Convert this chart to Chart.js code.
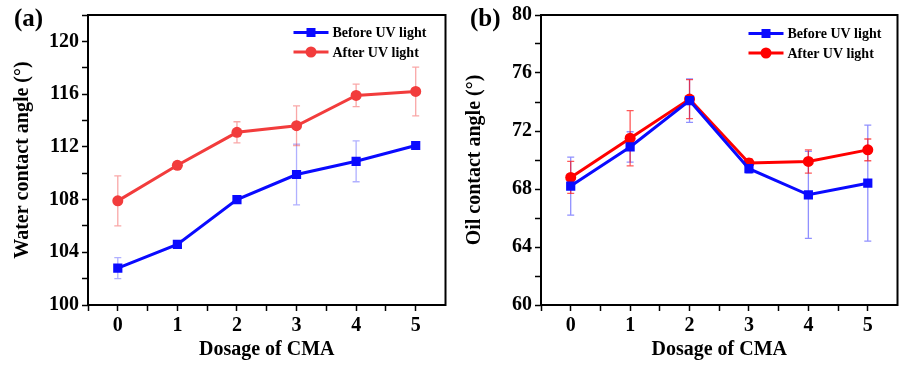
<!DOCTYPE html>
<html>
<head>
<meta charset="utf-8">
<script src="https://cdn.jsdelivr.net/npm/chart.js@4.4.1/dist/chart.umd.min.js"></script>
<style>
  html, body { margin: 0; padding: 0; background: #fff; }
  #wrap { position: relative; width: 904px; height: 365px; }
  .panel { position: absolute; top: 0; width: 452px; height: 365px; }
  #pa { left: 0; }
  #pb { left: 452px; }
</style>
</head>
<body>
<div id="wrap">
  <div class="panel" id="pa"><canvas id="chartA"></canvas></div>
  <div class="panel" id="pb"><canvas id="chartB"></canvas></div>
</div>
<script>
// dosage of CMA
const dosage = [0, 1, 2, 3, 4, 5];

// (a) water contact angle
const waterBefore = [102.8, 104.6, 108.0, 109.9, 110.9, 112.1];
const waterBeforeErr = [0.8, 0.2, 0.15, 2.3, 1.55, 0.3];
const waterAfter = [107.9, 110.6, 113.1, 113.6, 115.9, 116.2];
const waterAfterErr = [1.9, 0.25, 0.8, 1.5, 0.85, 1.85];

// (b) oil contact angle
const oilBefore = [68.2, 70.9, 74.1, 69.4, 67.6, 68.4];
const oilBeforeErr = [2.0, 1.05, 1.5, 0.3, 3.0, 4.0];
const oilAfter = [68.8, 71.5, 74.2, 69.8, 69.9, 70.7];
const oilAfterErr = [1.1, 1.9, 1.35, 0.3, 0.8, 0.75];

const xTicks = [0, 1, 2, 3, 4, 5];
const waterTicks = [100, 104, 108, 112, 116, 120];
const oilTicks = [60, 64, 68, 72, 76, 80];

const serif = "'Liberation Serif', 'Times New Roman', serif";

// error bars, frame, panel letter and legend
const extras = {
    id: 'extras',
    beforeDatasetsDraw(chart) {
        const ctx = chart.ctx;
        const xs = chart.scales.x, ys = chart.scales.y;
        chart.data.datasets.forEach(ds => {
            ctx.save();
            ctx.strokeStyle = ds.errColor;
            ctx.lineWidth = 1.3;
            ds.data.forEach((p, i) => {
                const e = ds.errors[i];
                const x = xs.getPixelForValue(p.x);
                const y1 = ys.getPixelForValue(p.y + e);
                const y2 = ys.getPixelForValue(p.y - e);
                ctx.beginPath();
                ctx.moveTo(x, y1); ctx.lineTo(x, y2);
                ctx.moveTo(x - 3.5, y1); ctx.lineTo(x + 3.5, y1);
                ctx.moveTo(x - 3.5, y2); ctx.lineTo(x + 3.5, y2);
                ctx.stroke();
            });
            ctx.restore();
        });
    },
    afterDraw(chart) {
        const ctx = chart.ctx;
        const a = chart.chartArea;
        const opts = chart.options.plugins.extras;
        ctx.save();
        ctx.strokeStyle = '#000';
        ctx.lineWidth = 2;
        ctx.strokeRect(a.left, a.top, a.right - a.left, a.bottom - a.top);

        ctx.fillStyle = '#000';
        ctx.font = 'bold 25px ' + serif;
        ctx.textBaseline = 'middle';
        ctx.textAlign = 'left';
        ctx.fillText(opts.letter, opts.letterX, 20);

        // legend
        ctx.font = 'bold 14px ' + serif;
        chart.data.datasets.forEach((ds, i) => {
            const y = opts.legendY + i * 19.5;
            const x0 = a.right - opts.legendDx;
            ctx.strokeStyle = ds.borderColor;
            ctx.lineWidth = 3;
            ctx.beginPath();
            ctx.moveTo(x0, y); ctx.lineTo(x0 + 35, y);
            ctx.stroke();
            ctx.fillStyle = ds.borderColor;
            if (ds.pointStyle === 'rect') {
                ctx.fillRect(x0 + 13, y - 4.5, 9, 9);
            } else {
                ctx.beginPath();
                ctx.arc(x0 + 17.5, y, 5.5, 0, Math.PI * 2);
                ctx.fill();
            }
            ctx.fillStyle = '#000';
            ctx.fillText(ds.label, x0 + 39, y + 1);
        });
        ctx.restore();
    }
};

function series(values) {
    return values.map((v, i) => ({ x: dosage[i], y: v }));
}

function makeChart(id, cfg) {
    const ctx = document.getElementById(id).getContext('2d');
    return new Chart(ctx, {
        type: 'line',
        data: {
            datasets: [{
                label: 'Before UV light',
                data: series(cfg.before),
                errors: cfg.beforeErr,
                borderColor: cfg.blue,
                backgroundColor: cfg.blue,
                errColor: cfg.blueErr,
                borderWidth: 3,
                pointStyle: 'rect',
                pointRadius: 6.5,
                pointBorderWidth: 0
            }, {
                label: 'After UV light',
                data: series(cfg.after),
                errors: cfg.afterErr,
                borderColor: cfg.red,
                backgroundColor: cfg.red,
                errColor: cfg.redErr,
                borderWidth: 3,
                pointStyle: 'circle',
                pointRadius: 5.5,
                pointBorderWidth: 0
            }]
        },
        options: {
            responsive: true,
            maintainAspectRatio: false,
            animation: false,
            layout: { padding: { top: 14, right: cfg.padRight, left: 0, bottom: 0 } },
            plugins: {
                legend: { display: false },
                tooltip: { enabled: false },
                extras: {
                    letter: cfg.letter,
                    letterX: cfg.letterX,
                    legendDx: cfg.legendDx,
                    legendY: cfg.legendY
                }
            },
            scales: {
                x: {
                    type: 'linear',
                    min: -0.5,
                    max: 5.5,
                    afterBuildTicks: (s) => {
                        s.ticks = [];
                        for (let v = -0.5; v <= 5.5; v += 0.5) s.ticks.push({ value: v });
                    },
                    afterFit: (s) => { s.height = 60; },
                    border: { display: false },
                    grid: {
                        drawOnChartArea: false,
                        tickLength: 6,
                        tickWidth: 1.5,
                        tickColor: (c) => (c.tick && c.tick.value === 5.5 ? 'rgba(0,0,0,0)' : '#000')
                    },
                    ticks: {
                        autoSkip: false,
                        maxRotation: 0,
                        padding: 3,
                        color: '#000',
                        font: { family: serif, size: 20, weight: 'bold' },
                        callback: (v) => (xTicks.includes(v) ? String(v) : '')
                    },
                    title: {
                        display: true,
                        text: 'Dosage of CMA',
                        color: '#000',
                        padding: { top: 0, bottom: 3 },
                        font: { family: serif, size: 20, weight: 'bold' }
                    }
                },
                y: {
                    min: cfg.yMin,
                    max: cfg.yMax,
                    afterBuildTicks: (s) => {
                        s.ticks = [];
                        for (let v = cfg.yMin; v <= cfg.yMax + 1e-9; v += cfg.yStep / 2) s.ticks.push({ value: v });
                    },
                    afterFit: (s) => { s.width = cfg.yWidth; },
                    border: { display: false },
                    grid: {
                        drawOnChartArea: false,
                        tickLength: 6,
                        tickWidth: 1.5,
                        tickColor: '#000'
                    },
                    ticks: {
                        autoSkip: false,
                        padding: 3,
                        color: '#000',
                        font: { family: serif, size: 20, weight: 'bold' },
                        callback: (v) => (cfg.yTicks.includes(v) ? String(v) : '')
                    },
                    title: {
                        display: true,
                        text: cfg.yTitle,
                        color: '#000',
                        padding: { top: 11, bottom: 0 },
                        font: { family: serif, size: 20, weight: 'bold' }
                    }
                }
            }
        },
        plugins: [extras]
    });
}

makeChart('chartA', {
    before: waterBefore, beforeErr: waterBeforeErr,
    after: waterAfter, afterErr: waterAfterErr,
    blue: '#0a0aff', blueErr: 'rgba(80,80,255,0.45)',
    red: '#f23c3c', redErr: 'rgba(242,60,60,0.45)',
    yMin: 100, yMax: 122, yStep: 4, yTicks: waterTicks,
    yTitle: 'Water contact angle (\u00b0)',
    yWidth: 88, padRight: 4,
    letter: '(a)', letterX: 14,
    legendDx: 152, legendY: 32.5
});

makeChart('chartB', {
    before: oilBefore, beforeErr: oilBeforeErr,
    after: oilAfter, afterErr: oilAfterErr,
    blue: '#0a0aff', blueErr: 'rgba(70,70,255,0.6)',
    red: '#ff0000', redErr: 'rgba(255,0,0,0.65)',
    yMin: 60, yMax: 80, yStep: 4, yTicks: oilTicks,
    yTitle: 'Oil contact angle (\u00b0)',
    yWidth: 89, padRight: 3,
    letter: '(b)', letterX: 18,
    legendDx: 149, legendY: 33.5
});
</script>
</body>
</html>
